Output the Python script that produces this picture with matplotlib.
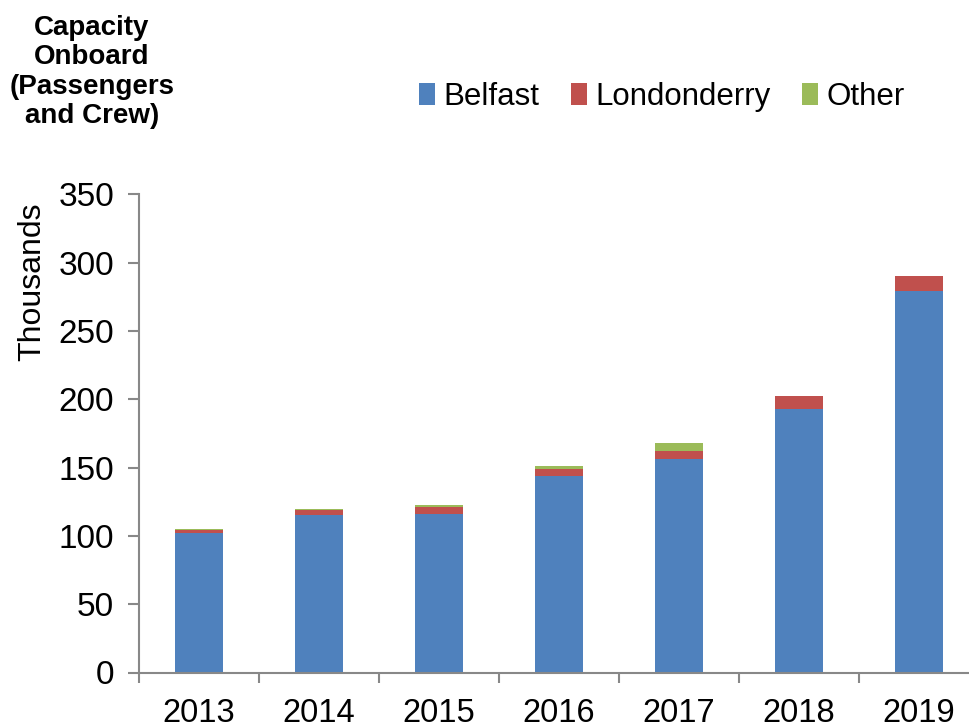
import matplotlib
matplotlib.use("Agg")
import matplotlib.pyplot as plt
import numpy as np

years = ["2013", "2014", "2015", "2016", "2017", "2018", "2019"]
belfast = [102.2, 115.1, 116.0, 143.6, 156.4, 192.5, 279.3]
londonderry = [2.2, 4.1, 5.2, 5.3, 5.9, 9.9, 10.7]
other = [0.3, 0.4, 1.4, 2.2, 5.4, 0.0, 0.0]
series_names = ["Belfast", "Londonderry", "Other"]
colors = ["#4F81BD", "#C0504D", "#9BBB59"]
yticks = [0, 50, 100, 150, 200, 250, 300, 350]

plt.rcParams['font.family'] = ['Liberation Sans', 'DejaVu Sans']

W, H = 969, 723
fig = plt.figure(figsize=(W / 100, H / 100), dpi=100)
ax = fig.add_axes([139 / W, (H - 672.5) / H, (979 - 139) / W, (672.5 - 194.3) / H])

x = np.arange(len(years))
bw = 0.4
b = np.array(belfast)
l = np.array(londonderry)
o = np.array(other)
ax.bar(x, b, bw, color=colors[0], label=series_names[0], edgecolor="none")
ax.bar(x, l, bw, bottom=b, color=colors[1], label=series_names[1], edgecolor="none")
ax.bar(x, o, bw, bottom=b + l, color=colors[2], label=series_names[2], edgecolor="none")

ax.set_xlim(-0.5, len(years) - 0.5)
ax.set_ylim(0, 350)
ax.set_yticks(yticks)
ax.set_yticklabels([str(v) for v in yticks], fontsize=24)
ax.set_xticks(x)
ax.set_xticklabels(years, fontsize=23.5)
ax.set_xticks(np.arange(len(years) + 1) - 0.5, minor=True)
ax.tick_params(axis='x', which='major', length=0, pad=18)
ax.tick_params(axis='x', which='minor', length=7.5, width=1.5, color="#888888", direction='out')
ax.tick_params(axis='y', length=8, width=1.5, color="#888888", direction='out', pad=10)

for s in ["top", "right"]:
    ax.spines[s].set_visible(False)
for s in ["left", "bottom"]:
    ax.spines[s].set_color("#888888")
    ax.spines[s].set_linewidth(1.5)

ax.set_ylabel("Thousands", fontsize=23)
ax.yaxis.set_label_coords((47 - 139) / (979 - 139), (672.5 - 282) / (672.5 - 194.3))

fig.text(92 / W, 1 - 72 / H, "Capacity\nOnboard\n(Passengers\nand Crew)",
         ha="center", va="center", fontsize=20, fontweight="bold", linespacing=1.18)

leg = fig.legend(loc="center", bbox_to_anchor=(662 / W, 1 - 97 / H), ncol=3, frameon=False,
                 fontsize=22.5, handlelength=0.5, handleheight=0.7, handletextpad=0.28,
                 columnspacing=1.0)

fig.savefig("out.png", dpi=100)
